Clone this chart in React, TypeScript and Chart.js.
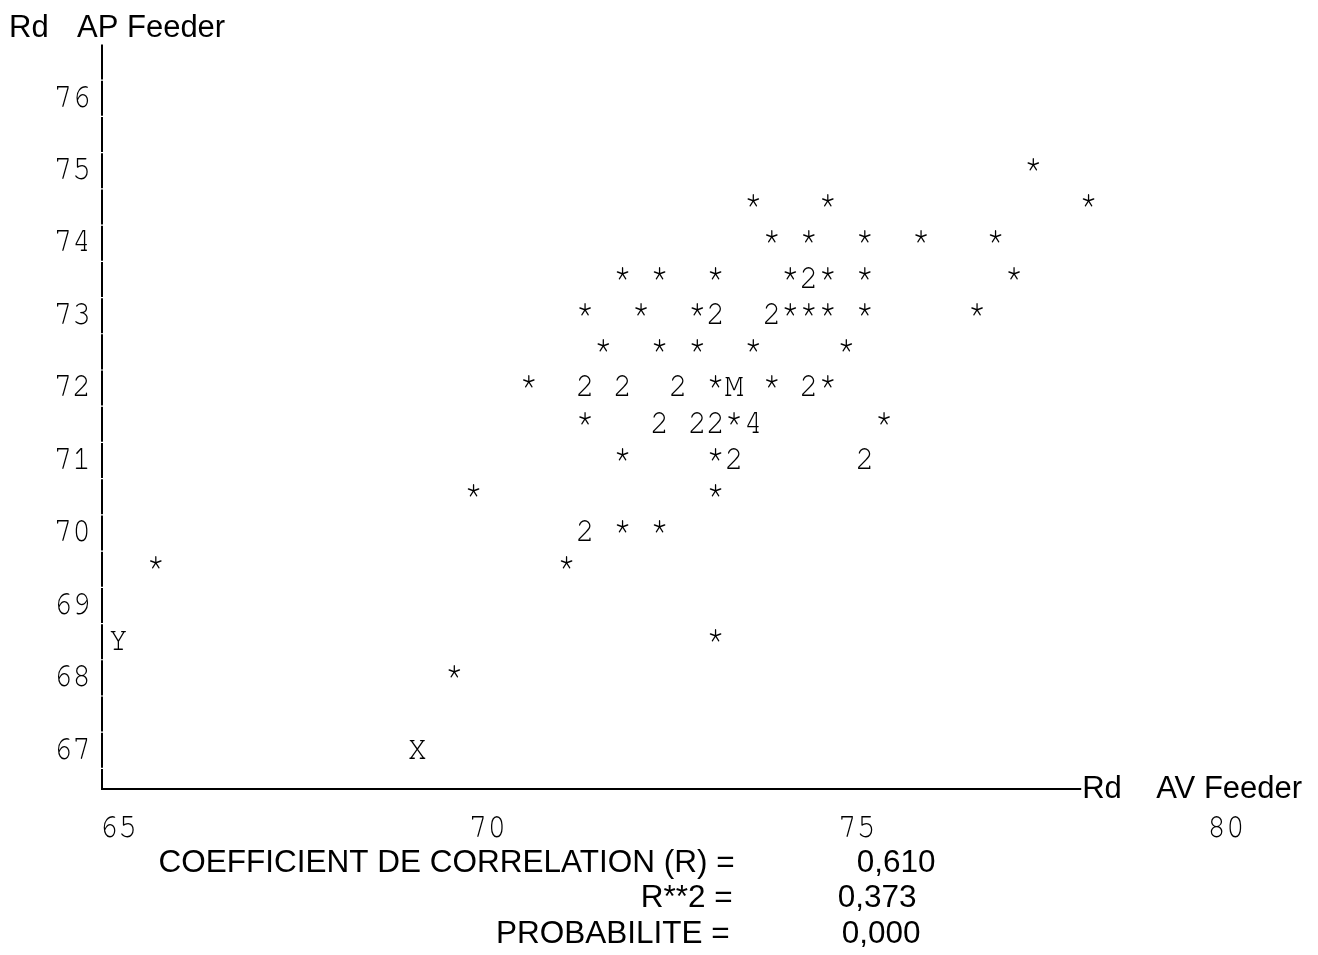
import React, { useEffect, useRef } from "react";
import { Chart, registerables } from "chart.js";

Chart.register(...registerables);

// ---- data (character plot) ----
const pointX = [
  77.39,
  73.6, 74.61, 78.14,
  73.85, 74.35, 75.11, 75.87, 76.88,
  71.83, 72.33, 73.09, 74.1, 74.35, 74.61, 75.11, 77.13,
  71.32, 72.08, 72.84, 73.09, 73.85, 74.1, 74.35, 74.61, 75.11, 76.63,
  71.57, 72.33, 72.84, 73.6, 74.86,
  70.56, 71.32, 71.83, 72.58, 73.09, 73.34, 73.85, 74.35, 74.61,
  71.32, 72.33, 72.84, 73.09, 73.34, 73.6, 75.37,
  71.83, 73.09, 73.34, 75.11,
  69.81, 73.09,
  71.32, 71.83, 72.33,
  65.51, 71.07,
  65.0, 73.09,
  69.55,
  69.05,
];
const pointY = [
  75,
  74.5, 74.5, 74.5,
  74, 74, 74, 74, 74,
  73.5, 73.5, 73.5, 73.5, 73.5, 73.5, 73.5, 73.5,
  73, 73, 73, 73, 73, 73, 73, 73, 73, 73,
  72.5, 72.5, 72.5, 72.5, 72.5,
  72, 72, 72, 72, 72, 72, 72, 72, 72,
  71.5, 71.5, 71.5, 71.5, 71.5, 71.5, 71.5,
  71, 71, 71, 71,
  70.5, 70.5,
  70, 70, 70,
  69.5, 69.5,
  68.5, 68.5,
  68,
  67,
];
const pointSymbol = [
  "*",
  "*", "*", "*",
  "*", "*", "*", "*", "*",
  "*", "*", "*", "*", "2", "*", "*", "*",
  "*", "*", "*", "2", "2", "*", "*", "*", "*", "*",
  "*", "*", "*", "*", "*",
  "*", "2", "2", "2", "*", "M", "*", "2", "*",
  "*", "2", "2", "2", "*", "4", "*",
  "*", "*", "2", "2",
  "*", "*",
  "2", "*", "*",
  "*", "*",
  "Y", "*",
  "*",
  "X",
];

const xTickValues = [65, 70, 75, 80];
const yTickValues = [67, 68, 69, 70, 71, 72, 73, 74, 75, 76];

const yAxisTitle = ["Rd", "AP Feeder"];
const xAxisTitle = ["Rd", "AV Feeder"];
const statLabels = ["COEFFICIENT DE CORRELATION (R) =", "R**2 =", "PROBABILITE ="];
const statValues = ["0,610", "0,373", "0,000"];

const MONO = '"Nimbus Mono PS", "Nimbus Mono L", FreeMono, "Courier 10 Pitch", Courier, "Liberation Mono", monospace';
const SANS = '"Liberation Sans", Arial, Helvetica, sans-serif';
const MONO_SIZE = 34.5;
const MONO_SX = 0.9;
const MONO_DY = 8.2;

function drawMono(ctx: any, text: string, x: number, y: number, align: string) {
  ctx.save();
  ctx.translate(x, y);
  ctx.scale(MONO_SX, 1);
  ctx.font = `${MONO_SIZE}px ${MONO}`;
  ctx.textAlign = align;
  ctx.textBaseline = "alphabetic";
  ctx.fillStyle = "#000";
  ctx.fillText(text, 0, MONO_DY);
  ctx.restore();
}

const charMarksPlugin = {
  id: "charMarks",
  afterDatasetsDraw(chart: any) {
    const ctx = chart.ctx;
    const meta = chart.getDatasetMeta(0);
    meta.data.forEach((el: any, i: number) => {
      drawMono(ctx, pointSymbol[i], el.x, el.y, "center");
    });
  },
};

const framePlugin = {
  id: "frame",
  afterDraw(chart: any) {
    const ctx = chart.ctx;
    const xs = chart.scales.x;
    const ys = chart.scales.y;
    const area = chart.chartArea;

    // tick labels from the scales' own ticks
    ys.ticks.forEach((t: any) => {
      drawMono(ctx, String(t.value), area.left - 11, ys.getPixelForValue(t.value), "right");
    });
    xs.ticks.forEach((t: any) => {
      drawMono(ctx, String(t.value), xs.getPixelForValue(t.value), area.bottom + 40, "center");
    });

    ctx.save();
    ctx.strokeStyle = "#000";
    ctx.lineWidth = 2;
    // vertical axis drawn in row cells (half-unit rows) with hairline breaks
    const axX = area.left;
    let v = ys.max;
    while (v > ys.min + 1e-6) {
      const next = Math.max(v - 0.5, ys.min);
      const y0 = ys.getPixelForValue(v);
      const y1 = ys.getPixelForValue(next);
      ctx.beginPath();
      ctx.moveTo(axX, y0 + 0.6);
      ctx.lineTo(axX, next === ys.min ? y1 + 1 : y1 - 0.6);
      ctx.stroke();
      v = next;
    }
    // horizontal axis
    const axY = area.bottom;
    const xEnd = xs.getPixelForValue(78.04);
    ctx.beginPath();
    ctx.moveTo(axX - 1, axY);
    ctx.lineTo(xEnd, axY);
    ctx.stroke();

    ctx.fillStyle = "#000";
    ctx.font = `31px ${SANS}`;
    ctx.textBaseline = "alphabetic";
    ctx.textAlign = "left";
    // y axis title
    ctx.fillText(yAxisTitle[0], 9, 37);
    ctx.fillText(yAxisTitle[1], 77, 37);
    // x axis title
    ctx.fillText(xAxisTitle[0], xEnd + 1, 798);
    ctx.fillText(xAxisTitle[1], xEnd + 75, 798);

    // statistics block
    ctx.font = `31.5px ${SANS}`;
    const baselines = [872, 907, 943];
    const labelRight = [734.6, 732.6, 729.6];
    const valueLeft = [856.7, 837.7, 841.7];
    statLabels.forEach((s, i) => {
      ctx.textAlign = "right";
      ctx.fillText(s, labelRight[i], baselines[i]);
      ctx.textAlign = "left";
      ctx.fillText(statValues[i], valueLeft[i], baselines[i]);
    });
    ctx.restore();
  },
};

export default function App() {
  const canvasRef = useRef<HTMLCanvasElement | null>(null);

  useEffect(() => {
    if (!canvasRef.current) return;
    const data = pointX.map((x, i) => ({ x, y: pointY[i] }));
    const chart = new Chart(canvasRef.current, {
      type: "scatter",
      data: {
        datasets: [
          {
            data,
            pointRadius: 0,
            pointHoverRadius: 0,
            backgroundColor: "#000",
            borderColor: "#000",
          },
        ],
      },
      options: {
        responsive: false,
        animation: false,
        events: [],
        layout: { padding: { top: 44, right: 78, left: 0, bottom: 0 } },
        plugins: {
          legend: { display: false },
          tooltip: { enabled: false },
          title: { display: false },
        },
        scales: {
          x: {
            type: "linear",
            position: "bottom",
            min: 64.78,
            max: 80.19,
            grid: { display: false, drawTicks: false },
            border: { display: false },
            afterBuildTicks: (scale: any) => {
              scale.ticks = xTickValues.map((value) => ({ value }));
            },
            afterFit: (scale: any) => {
              scale.height = 166;
            },
            ticks: { display: false, autoSkip: false, maxRotation: 0 },
          },
          y: {
            type: "linear",
            position: "left",
            min: 66.466,
            max: 76.75,
            grid: { display: false, drawTicks: false },
            border: { display: false },
            afterBuildTicks: (scale: any) => {
              scale.ticks = yTickValues.map((value) => ({ value }));
            },
            afterFit: (scale: any) => {
              scale.width = 102;
            },
            ticks: { display: false, autoSkip: false },
          },
        },
      },
      plugins: [charMarksPlugin, framePlugin],
    });
    return () => chart.destroy();
  }, []);

  return (
    <div
      style={{
        position: "absolute",
        left: 0,
        top: 0,
        width: 1318,
        height: 955,
        background: "#fff",
      }}
    >
      <canvas ref={canvasRef} width={1318} height={955} />
    </div>
  );
}
